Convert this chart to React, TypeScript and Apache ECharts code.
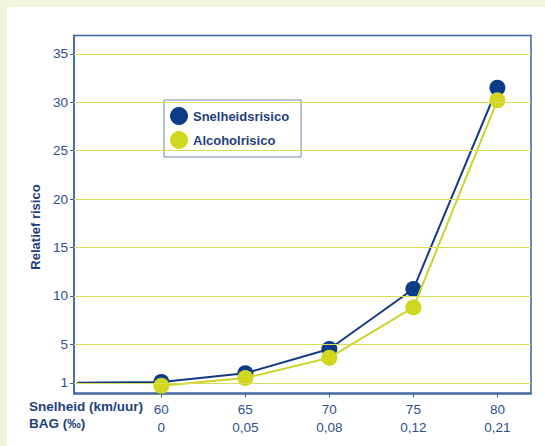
import React, { useEffect, useRef } from "react";
import * as echarts from "echarts";

const speeds = [60, 65, 70, 75, 80];
const bagLabels = ["0", "0,05", "0,08", "0,12", "0,21"];
const speedRisk = [1.1, 2.0, 4.5, 10.7, 31.5];
const alcoholRisk = [0.7, 1.5, 3.6, 8.8, 30.2];
const leadInSpeed = 55;
const leadInRisk = 1.0;
const yTicks = [1, 5, 10, 15, 20, 25, 30, 35];
const seriesNames = ["Snelheidsrisico", "Alcoholrisico"];

const FONT = "'Liberation Sans', Arial, Helvetica, sans-serif";
const BLUE = "#0c3c87";
const YELLOW = "#cfd81e";
const TEXT = "#1f3f7c";
const LABEL = "#2e4f8e";

export default function App() {
  const ref = useRef<HTMLDivElement>(null);
  useEffect(() => {
    document.body.style.margin = "0";
    const chart = echarts.init(ref.current!, null, { renderer: "svg" });
    const blueData: any[] = [
      { value: [leadInSpeed, leadInRisk], symbol: "none" },
      ...speeds.map((s, i) => [s, speedRisk[i]]),
    ];
    const yellowData = speeds.map((s, i) => [s, alcoholRisk[i]]);
    chart.setOption({
      animation: false,
      textStyle: { fontFamily: FONT },
      grid: {
        left: 74,
        top: 35.5,
        right: 14,
        bottom: 52,
        show: true,
        borderColor: "#3d65a3",
        borderWidth: 1.5,
        backgroundColor: "transparent",
      },
      legend: {
        data: seriesNames,
        orient: "vertical",
        left: 164,
        top: 100,
        icon: "circle",
        itemWidth: 18,
        itemHeight: 18,
        itemGap: 6,
        padding: [7, 12, 8, 6],
        backgroundColor: "#ffffff",
        borderColor: "#7088aa",
        borderWidth: 1,
        textStyle: { fontFamily: FONT, fontSize: 13, fontWeight: "bold", color: TEXT },
      },
      xAxis: {
        type: "value",
        min: 54.8,
        max: 82,
        axisLine: { show: true, lineStyle: { color: "#3d65a3", width: 1.5 } },
        axisTick: {
          show: true,
          customValues: speeds,
          length: 5,
          lineStyle: { color: "#3d65a3" },
        },
        splitLine: { show: false },
        axisLabel: {
          customValues: speeds,
          margin: 7,
          fontSize: 13.5,
          lineHeight: 17.5,
          color: LABEL,
          fontFamily: FONT,
          formatter: (v: number) => {
            const i = speeds.indexOf(v);
            return `${v}\n${i >= 0 ? bagLabels[i] : ""}`;
          },
        },
      },
      yAxis: {
        type: "value",
        min: -0.15,
        max: 36.9,
        axisLine: { show: true, lineStyle: { color: "#3d65a3", width: 1.5 } },
        axisTick: {
          show: true,
          customValues: yTicks,
          length: 4,
          lineStyle: { color: "#3d65a3" },
        },
        splitLine: { show: false },
        axisLabel: {
          customValues: yTicks,
          margin: 6,
          fontSize: 13.5,
          color: LABEL,
          fontFamily: FONT,
        },
      },
      graphic: [
        {
          type: "text",
          x: 35.5,
          y: 227,
          rotation: Math.PI / 2,
          style: {
            text: "Relatief risico",
            fontFamily: FONT,
            fontSize: 13,
            fontWeight: "bold",
            fill: TEXT,
            align: "center",
            verticalAlign: "middle",
          },
        },
        {
          type: "text",
          left: 29,
          top: 399,
          style: {
            text: "Snelheid (km/uur)",
            fontFamily: FONT,
            fontSize: 13.5,
            fontWeight: "bold",
            fill: TEXT,
          },
        },
        {
          type: "text",
          left: 29,
          top: 416.5,
          style: {
            text: "BAG (‰)",
            fontFamily: FONT,
            fontSize: 13.5,
            fontWeight: "bold",
            fill: TEXT,
          },
        },
      ],
      series: [
        {
          name: "grid",
          type: "line",
          data: [],
          z: 1,
          silent: true,
          markLine: {
            silent: true,
            symbol: "none",
            label: { show: false },
            lineStyle: { color: "#d8dd55", width: 1, type: "solid" },
            data: yTicks.map((t) => ({ yAxis: t })),
          },
        },
        {
          name: seriesNames[0],
          type: "line",
          data: blueData,
          z: 3,
          symbol: "circle",
          symbolSize: 16,
          lineStyle: { color: "#123b80", width: 2 },
          itemStyle: { color: BLUE },
        },
        {
          name: seriesNames[1],
          type: "line",
          data: yellowData,
          z: 4,
          symbol: "circle",
          symbolSize: 16,
          lineStyle: { color: "#ccd52c", width: 2 },
          itemStyle: { color: YELLOW },
        },
      ],
    });
    return () => chart.dispose();
  }, []);
  return (
    <div style={{ position: "relative", width: 545, height: 446, background: "#f2f4dc" }}>
      <div style={{ position: "absolute", left: 7, top: 7, right: 0, bottom: 0, background: "#ffffff" }} />
      <div ref={ref} style={{ position: "absolute", left: 0, top: 0, width: 545, height: 446 }} />
    </div>
  );
}
